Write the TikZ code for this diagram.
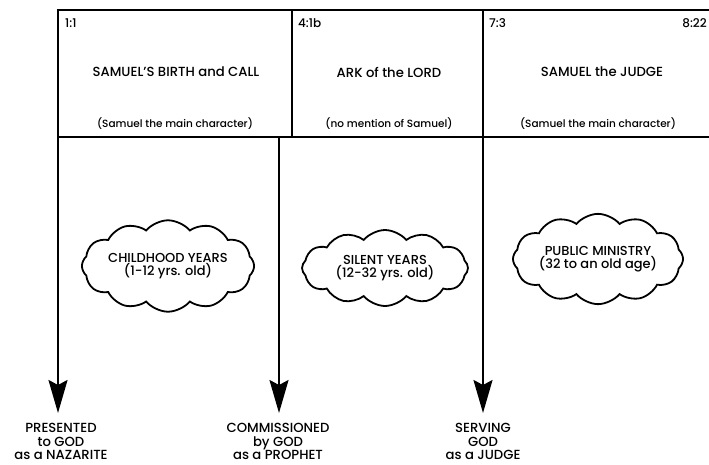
\documentclass[tikz,border=0pt]{standalone}
\usepackage{fontspec}
\setmainfont{Poppins}[UprightFont=* Medium]
\usetikzlibrary{arrows.meta,shapes.symbols}

\begin{document}
\begin{tikzpicture}[x=1pt, y=-1pt,
  frame/.style = {line width=2.4pt},
  title/.style = {font=\fontsize{13.2}{14}\selectfont},
  note/.style = {font=\fontsize{10.5}{12}\selectfont},
  ref/.style = {font=\fontsize{12}{12}\selectfont, inner sep=0pt},
  puff/.style = {draw, cloud, cloud puffs=12, cloud puff arc=100, aspect=2.3, line width=1.8pt,
    inner sep=0pt, minimum width=166pt, minimum height=76pt, align=center, font=\fontsize{13}{12.5}\selectfont},
  goal/.style = {align=center, anchor=north, inner sep=0pt, font=\fontsize{13.2}{13.5}\selectfont},
  arr/.style = {line width=2.2pt, shorten >=10pt, -{Stealth[length=33pt, width=19pt, inset=5pt]}}]
  \useasboundingbox (0,0) rectangle (709,464);
  % frame of the three periods
  \draw[frame] (709,10) -- (58,10);
  \draw[frame] (58,137) -- (709,137);
  \draw[frame] (292,10) -- (292,137);
  \coordinate (a1) at (58,9);
  \coordinate (a2) at (279,137);
  \coordinate (a3) at (483,9);
  % verses
  \node[ref, anchor=west] (r1) at (65,23) {1:1};
  \node[ref, anchor=west] (r2) at (298,23) {4:1b};
  \node[ref, anchor=west] (r3) at (489,23) {7:3};
  \node[ref, anchor=east] (r4) at (707,23) {8:22};
  % headings
  \node[title] (t1) at (176,72) {SAMUEL'S BIRTH and CALL};
  \node[title] (t2) at (389,72) {ARK of the LORD};
  \node[title] (t3) at (602,72) {SAMUEL the JUDGE};
  \node[note] (n1) at (175,124) {(Samuel the main character)};
  \node[note] (n2) at (389,124) {(no mention of Samuel)};
  \node[note] (n3) at (598,124) {(Samuel the main character)};
  % clouds
  \node[puff] (c1) at (168,266) {CHILDHOOD YEARS\\(1-12 yrs. old)};
  \node[puff] (c2) at (385,268) {SILENT YEARS\\(12-32 yrs. old)};
  \node[puff] (c3) at (598,259) {PUBLIC MINISTRY\\(32 to an old age)};
  % results
  \node[goal] (g1) at (61,423) {PRESENTED\\to GOD\\as a NAZARITE};
  \node[goal] (g2) at (278,423) {COMMISSIONED\\by GOD\\as a PROPHET};
  \node[goal] (g3) at (483,423) {SERVING\\GOD\\as a JUDGE};
  \draw[arr] (a1) -- (g1.north -| a1);
  \draw[arr] (a2) -- (g2.north -| a2);
  \draw[arr] (a3) -- (g3.north -| a3);
\end{tikzpicture}
\end{document}
